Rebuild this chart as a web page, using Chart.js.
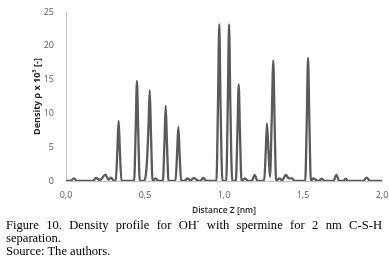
<!DOCTYPE html>
<html>
<head>
<meta charset="utf-8">
<script src="https://cdn.jsdelivr.net/npm/chart.js@4.4.0/dist/chart.umd.min.js"></script>
<style>
    html, body { margin: 0; padding: 0; background: #fff; }
    body { width: 389px; height: 272px; position: relative; overflow: hidden; }
    #chartBox { position: absolute; left: 0; top: 0; width: 389px; height: 220px; }
    #caption {
        position: absolute; left: 6px; top: 219px; width: 376px;
        font-family: "Liberation Serif", "Times New Roman", serif;
        font-size: 12.6px; line-height: 13px; color: #000;
        text-align: justify;
    }
    #caption sup { font-size: 8px; line-height: 0; }
</style>
</head>
<body>
<div id="chartBox"><canvas id="densityChart"></canvas></div>
<div id="caption">
    Figure 10. Density profile for OH<sup>-</sup> with spermine for 2 nm C-S-H separation.<br>
    Source: The authors.
</div>
<script>
// Distance Z [nm] and density (x 10^3)
const distance = [
    0.000, 0.030, 0.050, 0.070,
    0.170, 0.190, 0.215, 0.250, 0.268, 0.285, 0.300,
    0.315, 0.325, 0.333, 0.341, 0.351,
    0.431, 0.441, 0.449, 0.457, 0.467,
    0.492, 0.506, 0.515, 0.522, 0.530, 0.538, 0.548,
    0.568, 0.585,
    0.613, 0.623, 0.631, 0.639, 0.649,
    0.693, 0.703, 0.711, 0.719, 0.729,
    0.750, 0.768, 0.789, 0.810, 0.830, 0.850, 0.869, 0.890,
    0.952, 0.962, 0.970, 0.978, 0.990,
    1.014, 1.024, 1.032, 1.040, 1.052,
    1.075, 1.085, 1.093, 1.101, 1.111,
    1.133, 1.152, 1.176, 1.194, 1.212,
    1.254, 1.264, 1.272, 1.282, 1.291, 1.302, 1.312, 1.320, 1.330,
    1.350, 1.368, 1.392, 1.410, 1.430, 1.448,
    1.514, 1.524, 1.532, 1.540, 1.550,
    1.565, 1.585, 1.600, 1.618, 1.636,
    1.693, 1.711, 1.729, 1.755, 1.770, 1.785,
    1.880, 1.903, 1.925, 2.000
];
const density = [
    0, 0, 0.4, 0,
    0, 0.45, 0.15, 0.95, 0.2, 0.5, 0.1,
    0, 4.5, 8.9, 4.5, 0,
    0, 7.5, 14.8, 7.5, 0,
    0, 1.0, 4.0, 8.0, 13.4, 6.8, 0,
    0.4, 0,
    0, 5.6, 11.1, 5.6, 0,
    0, 4.0, 8.0, 4.0, 0,
    0, 0.4, 0.1, 0.45, 0.1, 0, 0.45, 0,
    0, 11.5, 23.2, 11.5, 0,
    0, 11.5, 23.2, 11.5, 0,
    0, 7.2, 14.3, 7.2, 0,
    0.4, 0, 0, 0.9, 0,
    0, 4.3, 8.5, 4.2, 0.6, 9.0, 17.8, 9.0, 0,
    0.4, 0.1, 0.9, 0.4, 0.4, 0,
    0, 9.1, 18.2, 9.1, 0,
    0.4, 0.1, 0, 0.35, 0,
    0, 0.9, 0, 0, 0.35, 0,
    0, 0.5, 0, 0
];

const yTicks = [0, 5, 10, 15, 20, 25];
const xTicks = [0, 0.5, 1.0, 1.5, 2.0];

const points = distance.map((d, i) => ({ x: d, y: density[i] }));
const tickColor = '#595959';

new Chart(document.getElementById('densityChart'), {
    type: 'line',
    data: {
        datasets: [{
            data: points,
            borderColor: '#5a5a5a',
            borderWidth: 2.3,
            pointRadius: 0,
            fill: false,
            cubicInterpolationMode: 'monotone'
        }]
    },
    options: {
        responsive: true,
        maintainAspectRatio: false,
        animation: false,
        layout: { padding: { left: 0, top: 12, right: 7, bottom: 0 } },
        plugins: { legend: { display: false }, tooltip: { enabled: false } },
        scales: {
            x: {
                type: 'linear',
                min: xTicks[0],
                max: xTicks[xTicks.length - 1],
                afterBuildTicks: s => { s.ticks = xTicks.map(v => ({ value: v })); },
                // fixed box so the plot area lines up with the figure
                afterFit: s => { s.height = 39; s.paddingLeft = 0; s.paddingRight = 0; },
                grid: { display: false, drawTicks: false },
                border: { display: true, color: '#bfbfbf', width: 1 },
                ticks: {
                    color: tickColor,
                    padding: 9.5,
                    maxRotation: 0,
                    font: { family: 'Open Sans', size: 9 },
                    callback: v => v.toFixed(1).replace('.', ',')
                },
                title: {
                    display: true,
                    text: 'Distance Z [nm]',
                    color: '#262626',
                    padding: { top: 0, bottom: 4 },
                    font: { family: 'Open Sans', size: 8.5, weight: '600' }
                }
            },
            y: {
                min: yTicks[0],
                max: yTicks[yTicks.length - 1],
                afterBuildTicks: s => { s.ticks = yTicks.map(v => ({ value: v })); },
                afterFit: s => { s.width = 66; s.paddingTop = 0; s.paddingBottom = 0; },
                grid: { display: false, drawTicks: false },
                border: { display: true, color: '#bfbfbf', width: 1 },
                ticks: {
                    color: tickColor,
                    padding: 12,
                    font: { family: 'Open Sans', size: 9 }
                },
                title: {
                    display: true,
                    text: 'Density \u03C1 x 10\u00B3 [-]',
                    color: '#262626',
                    padding: { top: 32, bottom: 0 },
                    font: { family: 'Open Sans', size: 9, weight: 'bold' }
                }
            }
        }
    }
});
</script>
</body>
</html>
